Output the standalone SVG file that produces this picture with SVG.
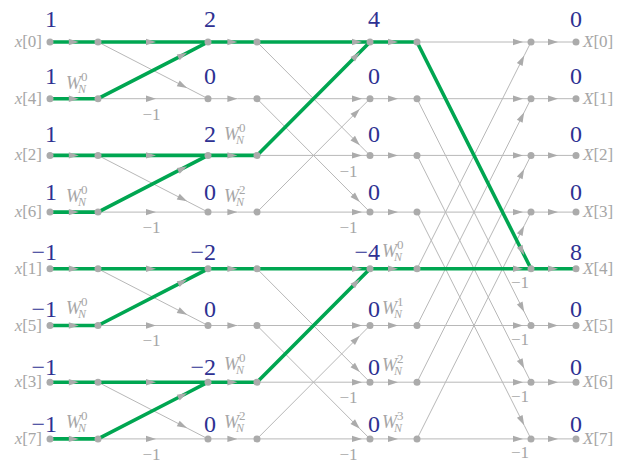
<svg xmlns="http://www.w3.org/2000/svg" width="618" height="462" viewBox="0 0 618 462" font-family="Liberation Serif, Times New Roman, serif">
<style>
.e{fill:none;stroke:#b8b8b8;stroke-width:1;marker-mid:url(#ah)}
.hl{stroke:#00a651;stroke-width:3.6;stroke-linecap:round}
.nd{fill:#ababab}
.num{font-size:24px;fill:#2e3192;text-anchor:end}
.lbl{font-size:17px;fill:#a6a6a6}
.in{text-anchor:end}
.m1{text-anchor:middle}
.it{font-style:italic}
.W{font-size:18px;font-style:italic;fill:#a6a6a6}
.Ns{font-size:12px;font-style:italic}
.Sp{font-size:13px;font-style:normal}
</style>
<defs>
<marker id="ah" markerUnits="userSpaceOnUse" markerWidth="12" markerHeight="8" refX="10" refY="3.2" orient="auto" overflow="visible">
<path d="M0,0 L10,3.2 L0,6.4 Z" fill="#ababab"/>
</marker>
</defs>
<rect width="618" height="462" fill="#ffffff"/>
<g id="connectors">
<path class="e" d="M98 98.7 L156 98.7 L208 98.7"/>
<path class="e" d="M98 212.1 L156 212.1 L208 212.1"/>
<path class="e" d="M98 325.5 L156 325.5 L208 325.5"/>
<path class="e" d="M98 438.9 L156 438.9 L208 438.9"/>
<path class="e" d="M98 42 L187.1 87.9 L208 98.7"/>
<path class="e" d="M98 155.4 L187.1 201.3 L208 212.1"/>
<path class="e" d="M98 268.8 L187.1 314.7 L208 325.5"/>
<path class="e" d="M98 382.2 L187.1 428.1 L208 438.9"/>
<path class="e" d="M208 98.7 L237.4 98.7 L257 98.7"/>
<path class="e" d="M208 212.1 L237.4 212.1 L257 212.1"/>
<path class="e" d="M208 325.5 L237.4 325.5 L257 325.5"/>
<path class="e" d="M208 438.9 L237.4 438.9 L257 438.9"/>
<path class="e" d="M257 98.7 L362 98.7 L370 98.7"/>
<path class="e" d="M257 155.4 L362 155.4 L370 155.4"/>
<path class="e" d="M257 212.1 L362 212.1 L370 212.1"/>
<path class="e" d="M257 325.5 L362 325.5 L370 325.5"/>
<path class="e" d="M257 382.2 L362 382.2 L370 382.2"/>
<path class="e" d="M257 438.9 L362 438.9 L370 438.9"/>
<path class="e" d="M257 42 L359.8 145.2 L370 155.4"/>
<path class="e" d="M257 98.7 L359.8 201.9 L370 212.1"/>
<path class="e" d="M257 212.1 L359.8 108.9 L370 98.7"/>
<path class="e" d="M257 268.8 L359.8 372 L370 382.2"/>
<path class="e" d="M257 325.5 L359.8 428.7 L370 438.9"/>
<path class="e" d="M257 438.9 L359.8 335.7 L370 325.5"/>
<path class="e" d="M370 98.7 L398 98.7 L417 98.7"/>
<path class="e" d="M370 155.4 L398 155.4 L417 155.4"/>
<path class="e" d="M370 212.1 L398 212.1 L417 212.1"/>
<path class="e" d="M370 325.5 L398 325.5 L417 325.5"/>
<path class="e" d="M370 382.2 L398 382.2 L417 382.2"/>
<path class="e" d="M370 438.9 L398 438.9 L417 438.9"/>
<path class="e" d="M417 42 L523 42 L531 42"/>
<path class="e" d="M417 98.7 L523 98.7 L531 98.7"/>
<path class="e" d="M417 155.4 L523 155.4 L531 155.4"/>
<path class="e" d="M417 212.1 L523 212.1 L531 212.1"/>
<path class="e" d="M417 325.5 L523 325.5 L531 325.5"/>
<path class="e" d="M417 382.2 L523 382.2 L531 382.2"/>
<path class="e" d="M417 438.9 L523 438.9 L531 438.9"/>
<path class="e" d="M417 268.8 L524.2 55.6 L531 42"/>
<path class="e" d="M417 98.7 L524.2 311.9 L531 325.5"/>
<path class="e" d="M417 325.5 L524.2 112.3 L531 98.7"/>
<path class="e" d="M417 155.4 L524.2 368.6 L531 382.2"/>
<path class="e" d="M417 382.2 L524.2 169 L531 155.4"/>
<path class="e" d="M417 212.1 L524.2 425.3 L531 438.9"/>
<path class="e" d="M417 438.9 L524.2 225.7 L531 212.1"/>
<path class="e" d="M531 42 L558 42 L576 42"/>
<path class="e" d="M531 98.7 L558 98.7 L576 98.7"/>
<path class="e" d="M531 155.4 L558 155.4 L576 155.4"/>
<path class="e" d="M531 212.1 L558 212.1 L576 212.1"/>
<path class="e" d="M531 325.5 L558 325.5 L576 325.5"/>
<path class="e" d="M531 382.2 L558 382.2 L576 382.2"/>
<path class="e" d="M531 438.9 L558 438.9 L576 438.9"/>
<path class="e hl" d="M50 42 L78.8 42 L98 42"/>
<path class="e hl" d="M50 98.7 L78.8 98.7 L98 98.7"/>
<path class="e hl" d="M50 155.4 L78.8 155.4 L98 155.4"/>
<path class="e hl" d="M50 212.1 L78.8 212.1 L98 212.1"/>
<path class="e hl" d="M50 268.8 L78.8 268.8 L98 268.8"/>
<path class="e hl" d="M50 325.5 L78.8 325.5 L98 325.5"/>
<path class="e hl" d="M50 382.2 L78.8 382.2 L98 382.2"/>
<path class="e hl" d="M50 438.9 L78.8 438.9 L98 438.9"/>
<path class="e hl" d="M98 42 L156 42 L208 42"/>
<path class="e hl" d="M98 155.4 L156 155.4 L208 155.4"/>
<path class="e hl" d="M98 268.8 L156 268.8 L208 268.8"/>
<path class="e hl" d="M98 382.2 L156 382.2 L208 382.2"/>
<path class="e hl" d="M98 98.7 L187.1 52.8 L208 42"/>
<path class="e hl" d="M98 212.1 L187.1 166.2 L208 155.4"/>
<path class="e hl" d="M98 325.5 L187.1 279.6 L208 268.8"/>
<path class="e hl" d="M98 438.9 L187.1 393 L208 382.2"/>
<path class="e hl" d="M208 42 L237.4 42 L257 42"/>
<path class="e hl" d="M208 155.4 L237.4 155.4 L257 155.4"/>
<path class="e hl" d="M208 268.8 L237.4 268.8 L257 268.8"/>
<path class="e hl" d="M208 382.2 L237.4 382.2 L257 382.2"/>
<path class="e hl" d="M257 42 L362 42 L370 42"/>
<path class="e hl" d="M257 268.8 L362 268.8 L370 268.8"/>
<path class="e hl" d="M257 155.4 L359.8 52.2 L370 42"/>
<path class="e hl" d="M257 382.2 L359.8 279 L370 268.8"/>
<path class="e hl" d="M370 42 L398 42 L417 42"/>
<path class="e hl" d="M370 268.8 L398 268.8 L417 268.8"/>
<path class="e hl" d="M417 42 L524.2 255.2 L531 268.8"/>
<path class="e hl" d="M417 268.8 L523 268.8 L531 268.8"/>
<path class="e hl" d="M531 268.8 L558 268.8 L576 268.8"/>
</g>
<g id="edge-labels" class="lbl m1">
<text x="151.5" y="119.5">−1</text>
<text x="151.5" y="232.8">−1</text>
<text x="151.5" y="346.2">−1</text>
<text x="151.5" y="459.5">−1</text>
<text x="348.5" y="176.5">−1</text>
<text x="348.5" y="232.8">−1</text>
<text x="348.5" y="402.8">−1</text>
<text x="348.5" y="459.5">−1</text>
<text x="520" y="288.3">−1</text>
<text x="520" y="345">−1</text>
<text x="520" y="401.7">−1</text>
<text x="520" y="458.4">−1</text>
</g>
<g id="nodes">
<g id="in0"><circle class="nd" cx="50" cy="42" r="3.5"/><text class="lbl in" x="42" y="47"><tspan class="it">x</tspan>[0]</text><text class="num" x="57" y="27">1</text></g>
<g id="in1"><circle class="nd" cx="50" cy="98.7" r="3.5"/><text class="lbl in" x="42" y="103.7"><tspan class="it">x</tspan>[4]</text><text class="num" x="57" y="84">1</text></g>
<g id="in2"><circle class="nd" cx="50" cy="155.4" r="3.5"/><text class="lbl in" x="42" y="160.4"><tspan class="it">x</tspan>[2]</text><text class="num" x="57" y="142">1</text></g>
<g id="in3"><circle class="nd" cx="50" cy="212.1" r="3.5"/><text class="lbl in" x="42" y="217.1"><tspan class="it">x</tspan>[6]</text><text class="num" x="57" y="200">1</text></g>
<g id="in4"><circle class="nd" cx="50" cy="268.8" r="3.5"/><text class="lbl in" x="42" y="273.8"><tspan class="it">x</tspan>[1]</text><text class="num" x="57" y="260">−1</text></g>
<g id="in5"><circle class="nd" cx="50" cy="325.5" r="3.5"/><text class="lbl in" x="42" y="330.5"><tspan class="it">x</tspan>[5]</text><text class="num" x="57" y="317">−1</text></g>
<g id="in6"><circle class="nd" cx="50" cy="382.2" r="3.5"/><text class="lbl in" x="42" y="387.2"><tspan class="it">x</tspan>[3]</text><text class="num" x="57" y="375">−1</text></g>
<g id="in7"><circle class="nd" cx="50" cy="438.9" r="3.5"/><text class="lbl in" x="42" y="443.9"><tspan class="it">x</tspan>[7]</text><text class="num" x="57" y="432">−1</text></g>

<g id="a0"><circle class="nd" cx="98" cy="42" r="3.5"/></g>
<g id="a1"><circle class="nd" cx="98" cy="98.7" r="3.5"/><text class="W" x="66" y="89">W<tspan class="Ns" dx="-3" dy="4">N</tspan><tspan class="Sp" dx="-5" dy="-12">0</tspan></text></g>
<g id="a2"><circle class="nd" cx="98" cy="155.4" r="3.5"/></g>
<g id="a3"><circle class="nd" cx="98" cy="212.1" r="3.5"/><text class="W" x="66" y="202">W<tspan class="Ns" dx="-3" dy="4">N</tspan><tspan class="Sp" dx="-5" dy="-12">0</tspan></text></g>
<g id="a4"><circle class="nd" cx="98" cy="268.8" r="3.5"/></g>
<g id="a5"><circle class="nd" cx="98" cy="325.5" r="3.5"/><text class="W" x="66" y="314">W<tspan class="Ns" dx="-3" dy="4">N</tspan><tspan class="Sp" dx="-5" dy="-12">0</tspan></text></g>
<g id="a6"><circle class="nd" cx="98" cy="382.2" r="3.5"/></g>
<g id="a7"><circle class="nd" cx="98" cy="438.9" r="3.5"/><text class="W" x="66" y="428">W<tspan class="Ns" dx="-3" dy="4">N</tspan><tspan class="Sp" dx="-5" dy="-12">0</tspan></text></g>

<g id="b0"><circle class="nd" cx="208" cy="42" r="3.5"/><text class="num" x="216" y="27">2</text></g>
<g id="b1"><circle class="nd" cx="208" cy="98.7" r="3.5"/><text class="num" x="216" y="84">0</text></g>
<g id="b2"><circle class="nd" cx="208" cy="155.4" r="3.5"/><text class="num" x="216" y="142">2</text><text class="W" x="224" y="140">W<tspan class="Ns" dx="-3" dy="4">N</tspan><tspan class="Sp" dx="-5" dy="-12">0</tspan></text></g>
<g id="b3"><circle class="nd" cx="208" cy="212.1" r="3.5"/><text class="num" x="216" y="200">0</text><text class="W" x="224" y="202">W<tspan class="Ns" dx="-3" dy="4">N</tspan><tspan class="Sp" dx="-5" dy="-12">2</tspan></text></g>
<g id="b4"><circle class="nd" cx="208" cy="268.8" r="3.5"/><text class="num" x="216" y="260">−2</text></g>
<g id="b5"><circle class="nd" cx="208" cy="325.5" r="3.5"/><text class="num" x="216" y="317">0</text></g>
<g id="b6"><circle class="nd" cx="208" cy="382.2" r="3.5"/><text class="num" x="216" y="375">−2</text><text class="W" x="224" y="370">W<tspan class="Ns" dx="-3" dy="4">N</tspan><tspan class="Sp" dx="-5" dy="-12">0</tspan></text></g>
<g id="b7"><circle class="nd" cx="208" cy="438.9" r="3.5"/><text class="num" x="216" y="432">0</text><text class="W" x="224" y="428">W<tspan class="Ns" dx="-3" dy="4">N</tspan><tspan class="Sp" dx="-5" dy="-12">2</tspan></text></g>

<g id="c0"><circle class="nd" cx="257" cy="42" r="3.5"/></g>
<g id="c1"><circle class="nd" cx="257" cy="98.7" r="3.5"/></g>
<g id="c2"><circle class="nd" cx="257" cy="155.4" r="3.5"/></g>
<g id="c3"><circle class="nd" cx="257" cy="212.1" r="3.5"/></g>
<g id="c4"><circle class="nd" cx="257" cy="268.8" r="3.5"/></g>
<g id="c5"><circle class="nd" cx="257" cy="325.5" r="3.5"/></g>
<g id="c6"><circle class="nd" cx="257" cy="382.2" r="3.5"/></g>
<g id="c7"><circle class="nd" cx="257" cy="438.9" r="3.5"/></g>

<g id="d0"><circle class="nd" cx="370" cy="42" r="3.5"/><text class="num" x="380" y="27">4</text></g>
<g id="d1"><circle class="nd" cx="370" cy="98.7" r="3.5"/><text class="num" x="380" y="84">0</text></g>
<g id="d2"><circle class="nd" cx="370" cy="155.4" r="3.5"/><text class="num" x="380" y="142">0</text></g>
<g id="d3"><circle class="nd" cx="370" cy="212.1" r="3.5"/><text class="num" x="380" y="200">0</text></g>
<g id="d4"><circle class="nd" cx="370" cy="268.8" r="3.5"/><text class="num" x="380" y="260">−4</text><text class="W" x="382" y="257">W<tspan class="Ns" dx="-3" dy="4">N</tspan><tspan class="Sp" dx="-5" dy="-12">0</tspan></text></g>
<g id="d5"><circle class="nd" cx="370" cy="325.5" r="3.5"/><text class="num" x="380" y="317">0</text><text class="W" x="382" y="314">W<tspan class="Ns" dx="-3" dy="4">N</tspan><tspan class="Sp" dx="-5" dy="-12">1</tspan></text></g>
<g id="d6"><circle class="nd" cx="370" cy="382.2" r="3.5"/><text class="num" x="380" y="375">0</text><text class="W" x="382" y="371">W<tspan class="Ns" dx="-3" dy="4">N</tspan><tspan class="Sp" dx="-5" dy="-12">2</tspan></text></g>
<g id="d7"><circle class="nd" cx="370" cy="438.9" r="3.5"/><text class="num" x="380" y="432">0</text><text class="W" x="382" y="428">W<tspan class="Ns" dx="-3" dy="4">N</tspan><tspan class="Sp" dx="-5" dy="-12">3</tspan></text></g>

<g id="e0"><circle class="nd" cx="417" cy="42" r="3.5"/></g>
<g id="e1"><circle class="nd" cx="417" cy="98.7" r="3.5"/></g>
<g id="e2"><circle class="nd" cx="417" cy="155.4" r="3.5"/></g>
<g id="e3"><circle class="nd" cx="417" cy="212.1" r="3.5"/></g>
<g id="e4"><circle class="nd" cx="417" cy="268.8" r="3.5"/></g>
<g id="e5"><circle class="nd" cx="417" cy="325.5" r="3.5"/></g>
<g id="e6"><circle class="nd" cx="417" cy="382.2" r="3.5"/></g>
<g id="e7"><circle class="nd" cx="417" cy="438.9" r="3.5"/></g>

<g id="f0"><circle class="nd" cx="531" cy="42" r="3.5"/></g>
<g id="f1"><circle class="nd" cx="531" cy="98.7" r="3.5"/></g>
<g id="f2"><circle class="nd" cx="531" cy="155.4" r="3.5"/></g>
<g id="f3"><circle class="nd" cx="531" cy="212.1" r="3.5"/></g>
<g id="f4"><circle class="nd" cx="531" cy="268.8" r="3.5"/></g>
<g id="f5"><circle class="nd" cx="531" cy="325.5" r="3.5"/></g>
<g id="f6"><circle class="nd" cx="531" cy="382.2" r="3.5"/></g>
<g id="f7"><circle class="nd" cx="531" cy="438.9" r="3.5"/></g>

<g id="out0"><circle class="nd" cx="576" cy="42" r="3.5"/><text class="lbl" x="583" y="47"><tspan class="it">X</tspan>[0]</text><text class="num" x="582" y="27">0</text></g>
<g id="out1"><circle class="nd" cx="576" cy="98.7" r="3.5"/><text class="lbl" x="583" y="103.7"><tspan class="it">X</tspan>[1]</text><text class="num" x="582" y="84">0</text></g>
<g id="out2"><circle class="nd" cx="576" cy="155.4" r="3.5"/><text class="lbl" x="583" y="160.4"><tspan class="it">X</tspan>[2]</text><text class="num" x="582" y="142">0</text></g>
<g id="out3"><circle class="nd" cx="576" cy="212.1" r="3.5"/><text class="lbl" x="583" y="217.1"><tspan class="it">X</tspan>[3]</text><text class="num" x="582" y="200">0</text></g>
<g id="out4"><circle class="nd" cx="576" cy="268.8" r="3.5"/><text class="lbl" x="583" y="273.8"><tspan class="it">X</tspan>[4]</text><text class="num" x="582" y="260">8</text></g>
<g id="out5"><circle class="nd" cx="576" cy="325.5" r="3.5"/><text class="lbl" x="583" y="330.5"><tspan class="it">X</tspan>[5]</text><text class="num" x="582" y="317">0</text></g>
<g id="out6"><circle class="nd" cx="576" cy="382.2" r="3.5"/><text class="lbl" x="583" y="387.2"><tspan class="it">X</tspan>[6]</text><text class="num" x="582" y="375">0</text></g>
<g id="out7"><circle class="nd" cx="576" cy="438.9" r="3.5"/><text class="lbl" x="583" y="443.9"><tspan class="it">X</tspan>[7]</text><text class="num" x="582" y="432">0</text></g>
</g>
</svg>
